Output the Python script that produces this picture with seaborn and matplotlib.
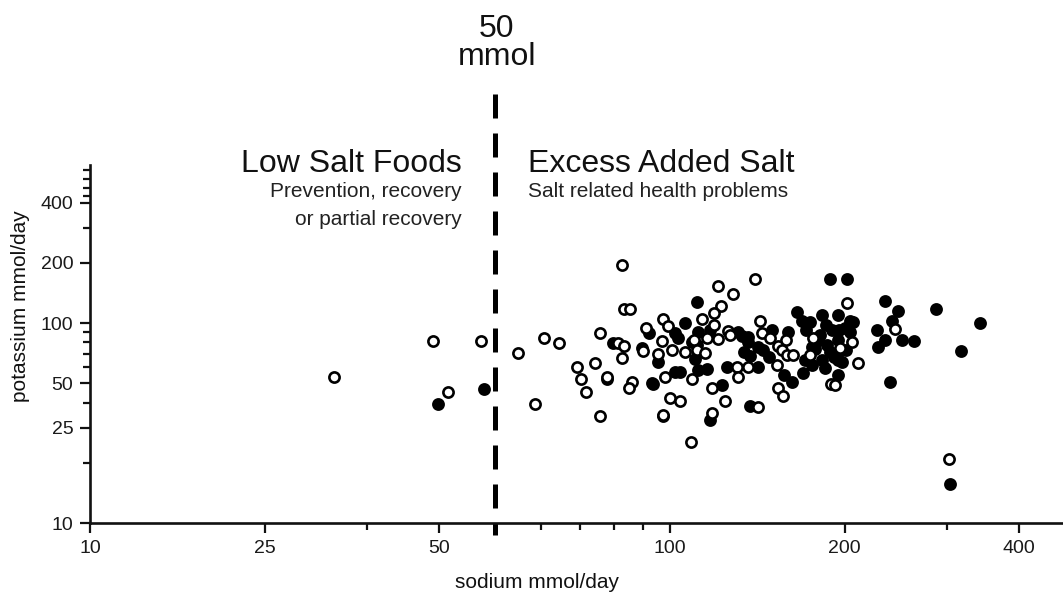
import numpy as np
import pandas as pd
import matplotlib
matplotlib.use("Agg")
import matplotlib.pyplot as plt
import seaborn as sns
from matplotlib.ticker import FixedLocator, FixedFormatter, NullFormatter

# sodium / potassium excretion, mmol/day
open_sodium = [26.3, 39.1, 47.2, 41.4, 54.6, 60.7, 64.3, 58.5,
               82.6, 83.3, 85.2, 75.7, 81.2, 83.4, 82.6, 74.3, 69.0, 70.2, 71.6, 78.0,
               85.9, 85.0, 75.7, 91.0, 90.0, 97.4,
               121.0, 128.4, 122.4, 119.1, 113.5, 97.4, 99.2, 119.1, 115.8, 121.0, 125.9,
               126.9, 96.9, 110.0, 100.8, 106.1, 111.3, 114.9, 98.0, 109.2, 130.5, 136.2,
               131.0, 118.2, 100.0, 104.0, 124.6, 97.4, 118.2, 108.7, 95.4,
               140.1, 143.0, 144.2, 148.8, 153.7, 158.2, 156.1, 159.0, 162.9, 176.4, 174.4,
               152.9, 189.5, 153.7, 156.6, 141.8,
               202.0, 244.3, 206.0, 210.9, 196.4, 192.6, 302.7]
open_potassium = [53.7, 81.3, 81.3, 45.3, 70.8, 83.8, 79.5, 39.5,
                  195.0, 117.0, 117.0, 88.8, 79.7, 77.0, 67.1, 63.3, 60.3, 52.3, 45.3, 53.9,
                  50.9, 47.2, 34.4, 94.4, 72.7, 34.4,
                  153.0, 139.6, 121.6, 112.2, 104.7, 104.7, 96.6, 97.7, 84.1, 83.2, 91.2,
                  87.1, 81.3, 82.2, 73.3, 71.6, 73.3, 70.8, 53.7, 52.5, 60.3, 60.3,
                  53.7, 47.3, 42.2, 40.7, 40.7, 34.7, 35.5, 25.4, 69.7,
                  166.0, 102.3, 89.1, 84.1, 76.7, 82.2, 73.3, 69.2, 69.2, 84.1, 69.2,
                  61.7, 49.6, 47.3, 43.2, 38.0,
                  125.9, 93.3, 80.4, 63.1, 75.0, 49.0, 20.9]

filled_sodium = [39.8, 47.7, 79.9, 78.0, 91.9, 89.4, 93.0, 93.4,
                 111.3, 106.1, 102.0, 103.2, 111.8, 117.2, 109.2, 111.3, 95.4, 110.4, 102.0,
                 104.0, 111.8, 115.8, 125.4, 122.9, 117.2, 137.3, 133.0, 136.5, 134.3, 137.3, 131.0,
                 188.8, 168.9, 182.8, 194.9, 159.7, 170.9, 175.7, 177.8, 136.3, 141.8, 148.0,
                 141.8, 169.6, 157.2, 162.3, 185.0,
                 165.6, 174.4, 185.8, 190.2, 200.4, 181.4, 194.9, 186.6, 201.2, 192.0, 182.8,
                 204.3, 198.0, 194.9, 197.2, 195.7, 194.9,
                 171.4, 180.0, 188.8, 175.7, 204.3, 149.9, 144.9,
                 202.0, 234.9, 287.5, 247.3, 206.8, 241.4, 227.5, 251.2, 263.5, 234.9, 228.4, 239.5,
                 342.4, 317.5, 303.9]
filled_potassium = [39.5, 46.6, 79.7, 52.3, 89.0, 75.2, 50.3, 49.4,
                    127.4, 100.0, 89.1, 84.1, 90.2, 92.3, 80.4, 77.6, 63.8, 66.1, 56.9,
                    56.9, 58.2, 58.9, 60.3, 49.0, 32.7, 38.5, 86.0, 80.4, 71.6, 68.4, 90.2,
                    166.0, 102.3, 109.6, 109.6, 90.2, 65.3, 75.9, 74.1, 85.0, 75.9, 67.6,
                    60.3, 56.2, 54.9, 50.7, 59.6,
                    113.5, 101.2, 97.7, 92.3, 94.4, 87.1, 82.2, 77.6, 73.3, 67.6, 65.3,
                    102.3, 63.8, 54.9, 73.3, 92.3, 65.3,
                    92.3, 82.2, 71.6, 61.7, 90.2, 92.3, 73.3,
                    166.0, 128.8, 117.5, 114.8, 101.2, 102.3, 92.3, 82.2, 81.3, 82.2, 75.9, 50.7,
                    100.0, 72.4, 15.7]

x_ticks = [10, 20, 40, 100, 200, 400]
x_tick_labels = ["10", "25", "50", "100", "200", "400"]
x_minor = [30, 50, 60, 70, 80, 90, 300]
y_ticks = [10, 30, 50, 100, 200, 400]
y_tick_labels = ["10", "25", "50", "100", "200", "400"]
y_minor = [20, 40, 60, 70, 80, 90, 300, 430, 475, 525, 580]

threshold = 50

df_open = pd.DataFrame({"sodium": open_sodium, "potassium": open_potassium})
df_filled = pd.DataFrame({"sodium": filled_sodium, "potassium": filled_potassium})

sns.set_style("white")
plt.rcParams["font.family"] = ["Liberation Sans", "DejaVu Sans"]
ink = "#111111"

fig = plt.figure(figsize=(10.63, 5.93), dpi=100)
ax = fig.add_axes([90 / 1063, 70 / 593, 973 / 1063, 358 / 593])

sns.scatterplot(data=df_filled, x="sodium", y="potassium", ax=ax, s=54,
                color="black", edgecolor="black", linewidth=1.9, zorder=3)
sns.scatterplot(data=df_open, x="sodium", y="potassium", ax=ax, s=54,
                color="white", edgecolor="black", linewidth=1.9, zorder=4)

ax.set_xscale("log")
ax.set_yscale("log")
ax.set_xlim(10, 476)
ax.set_ylim(10, 617)

ax.xaxis.set_major_locator(FixedLocator(x_ticks))
ax.xaxis.set_major_formatter(FixedFormatter(x_tick_labels))
ax.xaxis.set_minor_locator(FixedLocator(x_minor))
ax.xaxis.set_minor_formatter(NullFormatter())
ax.yaxis.set_major_locator(FixedLocator(y_ticks))
ax.yaxis.set_major_formatter(FixedFormatter(y_tick_labels))
ax.yaxis.set_minor_locator(FixedLocator(y_minor))
ax.yaxis.set_minor_formatter(NullFormatter())

for side in ["top", "right"]:
    ax.spines[side].set_visible(False)
for side in ["left", "bottom"]:
    ax.spines[side].set_linewidth(1.9)
    ax.spines[side].set_color(ink)

ax.tick_params(which="major", direction="out", length=7, width=1.6,
               color=ink, labelcolor="#1a1a1a", labelsize=14, pad=5)
ax.tick_params(which="minor", direction="out", length=5, width=1.6, color=ink)
ax.tick_params(axis="both", which="both", bottom=True, left=True)

# dashed 50 mmol threshold line, runs above the axes
ax.plot([threshold, threshold], [1.198, -0.034], transform=ax.get_xaxis_transform(),
        color="black", lw=3.6, dashes=(4.8, 3.0), clip_on=False, zorder=2)

ax.set_xlabel("sodium mmol/day", fontsize=15, color=ink, va="baseline")
ax.xaxis.set_label_coords(0.4594, -0.1816)
ax.set_ylabel("potassium mmol/day", fontsize=15, color=ink, va="baseline")
ax.yaxis.set_label_coords(-0.0658, 0.6047)

W, H = 1063, 593
fig.text(497 / W, 1 - 37 / H, "50", ha="center", va="baseline", fontsize=23, color=ink)
fig.text(497 / W, 1 - 65 / H, "mmol", ha="center", va="baseline", fontsize=23, color=ink)

fig.text(462 / W, 1 - 172 / H, "Low Salt Foods", ha="right", va="baseline", fontsize=23, color=ink)
fig.text(462 / W, 1 - 197 / H, "Prevention, recovery", ha="right", va="baseline", fontsize=15, color="#222222")
fig.text(462 / W, 1 - 225 / H, "or partial recovery", ha="right", va="baseline", fontsize=15, color="#222222")

fig.text(528 / W, 1 - 172 / H, "Excess Added Salt", ha="left", va="baseline", fontsize=23, color=ink)
fig.text(528 / W, 1 - 197 / H, "Salt related health problems", ha="left", va="baseline", fontsize=15, color="#222222")

fig.savefig("out.png", dpi=100, facecolor="white")
